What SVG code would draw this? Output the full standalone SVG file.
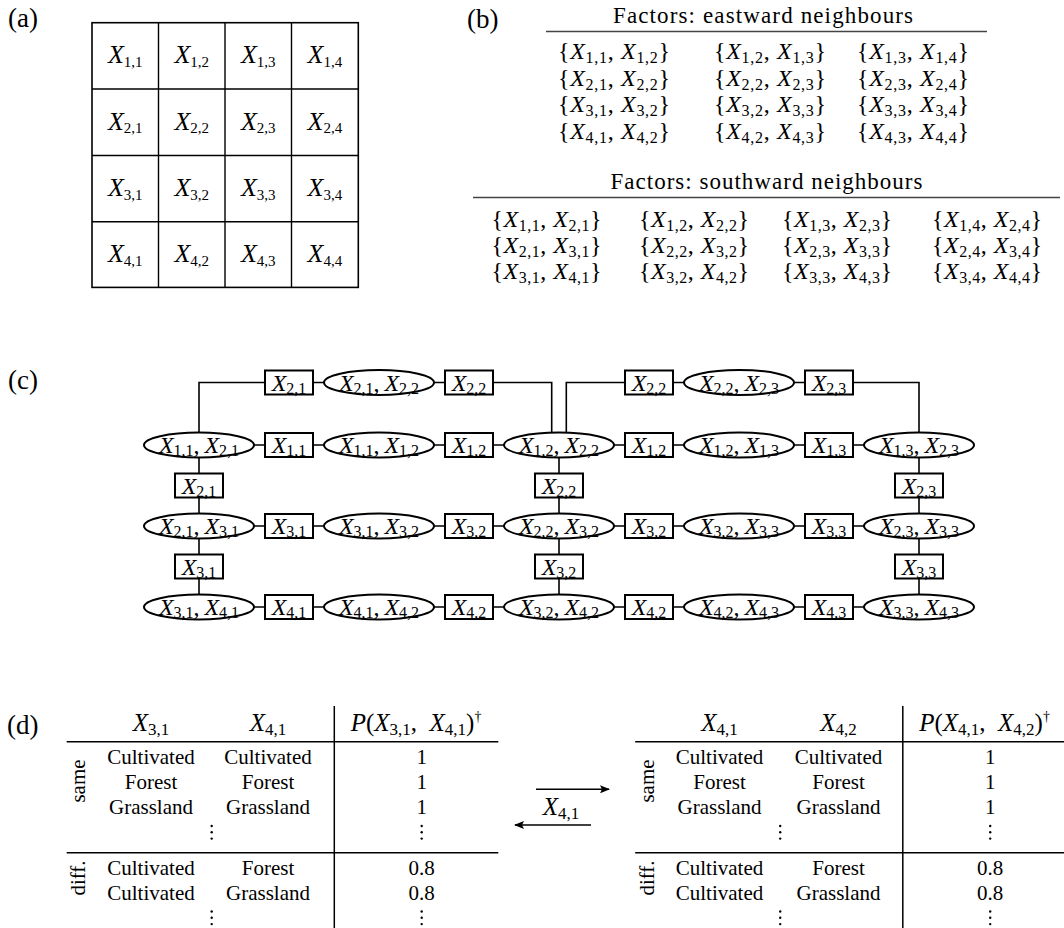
<svg xmlns="http://www.w3.org/2000/svg" width="1064" height="928" viewBox="0 0 1064 928">
<style>
text { font-family: "Liberation Serif", "DejaVu Serif", serif; fill: #000; }
.lab { font-size: 27px; }
.i { font-style: italic; }
.cell { font-size: 26px; text-anchor: middle; }
.s13 { font-size: 15px; }
.nl { font-size: 24px; text-anchor: middle; }
.sb { font-size: 16px; }
.hd { font-size: 23px; text-anchor: middle; }
.bt { font-size: 24px; text-anchor: middle; }
.dt { font-size: 21px; text-anchor: middle; }
.dh { font-size: 25px; text-anchor: middle; }
.ds { font-size: 17px; }
.sup { font-size: 14px; }
.box { fill: #fff; stroke: #000; stroke-width: 2; }
.ell { fill: #fff; stroke: #000; stroke-width: 2; }
.ln { fill: none; stroke: #000; stroke-width: 1.6; }
.rule { fill: none; stroke: #000; stroke-width: 1.5; }
.brule { fill: none; stroke: #444; stroke-width: 1.3; }
.dot { fill: #000; }
</style>
<defs>
<marker id="ah" viewBox="0 0 10 8" refX="9" refY="4" markerWidth="10" markerHeight="8" markerUnits="userSpaceOnUse" orient="auto"><path d="M0,0 L10,4 L0,8 L2,4 z" fill="#000"/></marker>
</defs>

<!-- panel labels -->
<text class="lab" x="8" y="27">(a)</text>
<text class="lab" x="467" y="28">(b)</text>
<text class="lab" x="8" y="389">(c)</text>
<text class="lab" x="7" y="734">(d)</text>

<!-- (a) grid -->
<g id="grid">
<rect x="92" y="22.7" width="266.3" height="264.7" fill="none" stroke="#000" stroke-width="1.6"/>
<path d="M158.5,22.7V287.4M225,22.7V287.4M291.5,22.7V287.4M92,89H358.3M92,155.5H358.3M92,221.8H358.3" stroke="#000" stroke-width="1.4" fill="none"/>
<text class="cell" x="125.2" y="63"><tspan class="i">X</tspan><tspan class="s13" dy="3.5">1,1</tspan></text>
<text class="cell" x="191.7" y="63"><tspan class="i">X</tspan><tspan class="s13" dy="3.5">1,2</tspan></text>
<text class="cell" x="258.2" y="63"><tspan class="i">X</tspan><tspan class="s13" dy="3.5">1,3</tspan></text>
<text class="cell" x="324.9" y="63"><tspan class="i">X</tspan><tspan class="s13" dy="3.5">1,4</tspan></text>
<text class="cell" x="125.2" y="129.5"><tspan class="i">X</tspan><tspan class="s13" dy="3.5">2,1</tspan></text>
<text class="cell" x="191.7" y="129.5"><tspan class="i">X</tspan><tspan class="s13" dy="3.5">2,2</tspan></text>
<text class="cell" x="258.2" y="129.5"><tspan class="i">X</tspan><tspan class="s13" dy="3.5">2,3</tspan></text>
<text class="cell" x="324.9" y="129.5"><tspan class="i">X</tspan><tspan class="s13" dy="3.5">2,4</tspan></text>
<text class="cell" x="125.2" y="196"><tspan class="i">X</tspan><tspan class="s13" dy="3.5">3,1</tspan></text>
<text class="cell" x="191.7" y="196"><tspan class="i">X</tspan><tspan class="s13" dy="3.5">3,2</tspan></text>
<text class="cell" x="258.2" y="196"><tspan class="i">X</tspan><tspan class="s13" dy="3.5">3,3</tspan></text>
<text class="cell" x="324.9" y="196"><tspan class="i">X</tspan><tspan class="s13" dy="3.5">3,4</tspan></text>
<text class="cell" x="125.2" y="262"><tspan class="i">X</tspan><tspan class="s13" dy="3.5">4,1</tspan></text>
<text class="cell" x="191.7" y="262"><tspan class="i">X</tspan><tspan class="s13" dy="3.5">4,2</tspan></text>
<text class="cell" x="258.2" y="262"><tspan class="i">X</tspan><tspan class="s13" dy="3.5">4,3</tspan></text>
<text class="cell" x="324.9" y="262"><tspan class="i">X</tspan><tspan class="s13" dy="3.5">4,4</tspan></text>
</g>

<!-- (b) eastward -->
<g id="east-table">
<text class="hd" x="763" y="23" textLength="300">Factors: eastward neighbours</text>
<path class="brule" d="M546,31.5H987"/>
<text class="bt" x="614" y="59" textLength="112">{<tspan class="i">X</tspan><tspan class="sb" dy="4">1,1</tspan><tspan dy="-4">, </tspan><tspan class="i">X</tspan><tspan class="sb" dy="4">1,2</tspan><tspan dy="-4">}</tspan></text>
<text class="bt" x="770" y="59" textLength="112">{<tspan class="i">X</tspan><tspan class="sb" dy="4">1,2</tspan><tspan dy="-4">, </tspan><tspan class="i">X</tspan><tspan class="sb" dy="4">1,3</tspan><tspan dy="-4">}</tspan></text>
<text class="bt" x="913" y="59" textLength="112">{<tspan class="i">X</tspan><tspan class="sb" dy="4">1,3</tspan><tspan dy="-4">, </tspan><tspan class="i">X</tspan><tspan class="sb" dy="4">1,4</tspan><tspan dy="-4">}</tspan></text>
<text class="bt" x="614" y="85.5" textLength="112">{<tspan class="i">X</tspan><tspan class="sb" dy="4">2,1</tspan><tspan dy="-4">, </tspan><tspan class="i">X</tspan><tspan class="sb" dy="4">2,2</tspan><tspan dy="-4">}</tspan></text>
<text class="bt" x="770" y="85.5" textLength="112">{<tspan class="i">X</tspan><tspan class="sb" dy="4">2,2</tspan><tspan dy="-4">, </tspan><tspan class="i">X</tspan><tspan class="sb" dy="4">2,3</tspan><tspan dy="-4">}</tspan></text>
<text class="bt" x="913" y="85.5" textLength="112">{<tspan class="i">X</tspan><tspan class="sb" dy="4">2,3</tspan><tspan dy="-4">, </tspan><tspan class="i">X</tspan><tspan class="sb" dy="4">2,4</tspan><tspan dy="-4">}</tspan></text>
<text class="bt" x="614" y="112" textLength="112">{<tspan class="i">X</tspan><tspan class="sb" dy="4">3,1</tspan><tspan dy="-4">, </tspan><tspan class="i">X</tspan><tspan class="sb" dy="4">3,2</tspan><tspan dy="-4">}</tspan></text>
<text class="bt" x="770" y="112" textLength="112">{<tspan class="i">X</tspan><tspan class="sb" dy="4">3,2</tspan><tspan dy="-4">, </tspan><tspan class="i">X</tspan><tspan class="sb" dy="4">3,3</tspan><tspan dy="-4">}</tspan></text>
<text class="bt" x="913" y="112" textLength="112">{<tspan class="i">X</tspan><tspan class="sb" dy="4">3,3</tspan><tspan dy="-4">, </tspan><tspan class="i">X</tspan><tspan class="sb" dy="4">3,4</tspan><tspan dy="-4">}</tspan></text>
<text class="bt" x="614" y="138.5" textLength="112">{<tspan class="i">X</tspan><tspan class="sb" dy="4">4,1</tspan><tspan dy="-4">, </tspan><tspan class="i">X</tspan><tspan class="sb" dy="4">4,2</tspan><tspan dy="-4">}</tspan></text>
<text class="bt" x="770" y="138.5" textLength="112">{<tspan class="i">X</tspan><tspan class="sb" dy="4">4,2</tspan><tspan dy="-4">, </tspan><tspan class="i">X</tspan><tspan class="sb" dy="4">4,3</tspan><tspan dy="-4">}</tspan></text>
<text class="bt" x="913" y="138.5" textLength="112">{<tspan class="i">X</tspan><tspan class="sb" dy="4">4,3</tspan><tspan dy="-4">, </tspan><tspan class="i">X</tspan><tspan class="sb" dy="4">4,4</tspan><tspan dy="-4">}</tspan></text>
</g>

<!-- (b) southward -->
<g id="south-table">
<text class="hd" x="766.5" y="189" textLength="312">Factors: southward neighbours</text>
<path class="brule" d="M473,197.5H1060"/>
<text class="bt" x="546.5" y="227" textLength="110">{<tspan class="i">X</tspan><tspan class="sb" dy="4">1,1</tspan><tspan dy="-4">, </tspan><tspan class="i">X</tspan><tspan class="sb" dy="4">2,1</tspan><tspan dy="-4">}</tspan></text>
<text class="bt" x="694" y="227" textLength="110">{<tspan class="i">X</tspan><tspan class="sb" dy="4">1,2</tspan><tspan dy="-4">, </tspan><tspan class="i">X</tspan><tspan class="sb" dy="4">2,2</tspan><tspan dy="-4">}</tspan></text>
<text class="bt" x="837" y="227" textLength="110">{<tspan class="i">X</tspan><tspan class="sb" dy="4">1,3</tspan><tspan dy="-4">, </tspan><tspan class="i">X</tspan><tspan class="sb" dy="4">2,3</tspan><tspan dy="-4">}</tspan></text>
<text class="bt" x="987" y="227" textLength="110">{<tspan class="i">X</tspan><tspan class="sb" dy="4">1,4</tspan><tspan dy="-4">, </tspan><tspan class="i">X</tspan><tspan class="sb" dy="4">2,4</tspan><tspan dy="-4">}</tspan></text>
<text class="bt" x="546.5" y="253" textLength="110">{<tspan class="i">X</tspan><tspan class="sb" dy="4">2,1</tspan><tspan dy="-4">, </tspan><tspan class="i">X</tspan><tspan class="sb" dy="4">3,1</tspan><tspan dy="-4">}</tspan></text>
<text class="bt" x="694" y="253" textLength="110">{<tspan class="i">X</tspan><tspan class="sb" dy="4">2,2</tspan><tspan dy="-4">, </tspan><tspan class="i">X</tspan><tspan class="sb" dy="4">3,2</tspan><tspan dy="-4">}</tspan></text>
<text class="bt" x="837" y="253" textLength="110">{<tspan class="i">X</tspan><tspan class="sb" dy="4">2,3</tspan><tspan dy="-4">, </tspan><tspan class="i">X</tspan><tspan class="sb" dy="4">3,3</tspan><tspan dy="-4">}</tspan></text>
<text class="bt" x="987" y="253" textLength="110">{<tspan class="i">X</tspan><tspan class="sb" dy="4">2,4</tspan><tspan dy="-4">, </tspan><tspan class="i">X</tspan><tspan class="sb" dy="4">3,4</tspan><tspan dy="-4">}</tspan></text>
<text class="bt" x="546.5" y="279" textLength="110">{<tspan class="i">X</tspan><tspan class="sb" dy="4">3,1</tspan><tspan dy="-4">, </tspan><tspan class="i">X</tspan><tspan class="sb" dy="4">4,1</tspan><tspan dy="-4">}</tspan></text>
<text class="bt" x="694" y="279" textLength="110">{<tspan class="i">X</tspan><tspan class="sb" dy="4">3,2</tspan><tspan dy="-4">, </tspan><tspan class="i">X</tspan><tspan class="sb" dy="4">4,2</tspan><tspan dy="-4">}</tspan></text>
<text class="bt" x="837" y="279" textLength="110">{<tspan class="i">X</tspan><tspan class="sb" dy="4">3,3</tspan><tspan dy="-4">, </tspan><tspan class="i">X</tspan><tspan class="sb" dy="4">4,3</tspan><tspan dy="-4">}</tspan></text>
<text class="bt" x="987" y="279" textLength="110">{<tspan class="i">X</tspan><tspan class="sb" dy="4">3,4</tspan><tspan dy="-4">, </tspan><tspan class="i">X</tspan><tspan class="sb" dy="4">4,4</tspan><tspan dy="-4">}</tspan></text>
</g>

<!-- (c) connectors -->
<g id="connectors">
<path class="ln" d="M199,445V382.5H551.7V440"/>
<path class="ln" d="M566.3,440V382.5H919V445"/>
<path class="ln" d="M199,445H919M199,526H919M199,607H919"/>
<path class="ln" d="M199,445V607M559,445V607M919,445V607"/>
</g>

<!-- (c) top row -->
<g id="b-t1"><rect class="box" x="265" y="370.5" width="48" height="24"/><text class="nl" x="289" y="390.5"><tspan class="i">X</tspan><tspan class="sb" dy="3">2,1</tspan></text></g>
<g id="e-t1"><ellipse class="ell" cx="379" cy="382.5" rx="55" ry="12.5"/><text class="nl" x="379" y="390.5"><tspan class="i">X</tspan><tspan class="sb" dy="3">2,1</tspan><tspan dy="-3">,&#8201;</tspan><tspan class="i">X</tspan><tspan class="sb" dy="3">2,2</tspan></text></g>
<g id="b-t2"><rect class="box" x="445" y="370.5" width="48" height="24"/><text class="nl" x="469" y="390.5"><tspan class="i">X</tspan><tspan class="sb" dy="3">2,2</tspan></text></g>
<g id="b-t3"><rect class="box" x="625" y="370.5" width="48" height="24"/><text class="nl" x="649" y="390.5"><tspan class="i">X</tspan><tspan class="sb" dy="3">2,2</tspan></text></g>
<g id="e-t2"><ellipse class="ell" cx="739" cy="382.5" rx="55" ry="12.5"/><text class="nl" x="739" y="390.5"><tspan class="i">X</tspan><tspan class="sb" dy="3">2,2</tspan><tspan dy="-3">,&#8201;</tspan><tspan class="i">X</tspan><tspan class="sb" dy="3">2,3</tspan></text></g>
<g id="b-t4"><rect class="box" x="805" y="370.5" width="48" height="24"/><text class="nl" x="829" y="390.5"><tspan class="i">X</tspan><tspan class="sb" dy="3">2,3</tspan></text></g>

<!-- (c) row 1 -->
<g id="e-11"><ellipse class="ell" cx="199" cy="445" rx="55" ry="12.5"/><text class="nl" x="199" y="453"><tspan class="i">X</tspan><tspan class="sb" dy="3">1,1</tspan><tspan dy="-3">,&#8201;</tspan><tspan class="i">X</tspan><tspan class="sb" dy="3">2,1</tspan></text></g>
<g id="b-11"><rect class="box" x="265" y="433" width="48" height="24"/><text class="nl" x="289" y="453"><tspan class="i">X</tspan><tspan class="sb" dy="3">1,1</tspan></text></g>
<g id="e-12"><ellipse class="ell" cx="379" cy="445" rx="55" ry="12.5"/><text class="nl" x="379" y="453"><tspan class="i">X</tspan><tspan class="sb" dy="3">1,1</tspan><tspan dy="-3">,&#8201;</tspan><tspan class="i">X</tspan><tspan class="sb" dy="3">1,2</tspan></text></g>
<g id="b-12"><rect class="box" x="445" y="433" width="48" height="24"/><text class="nl" x="469" y="453"><tspan class="i">X</tspan><tspan class="sb" dy="3">1,2</tspan></text></g>
<g id="e-13"><ellipse class="ell" cx="559" cy="445" rx="55" ry="12.5"/><text class="nl" x="559" y="453"><tspan class="i">X</tspan><tspan class="sb" dy="3">1,2</tspan><tspan dy="-3">,&#8201;</tspan><tspan class="i">X</tspan><tspan class="sb" dy="3">2,2</tspan></text></g>
<g id="b-13"><rect class="box" x="625" y="433" width="48" height="24"/><text class="nl" x="649" y="453"><tspan class="i">X</tspan><tspan class="sb" dy="3">1,2</tspan></text></g>
<g id="e-14"><ellipse class="ell" cx="739" cy="445" rx="55" ry="12.5"/><text class="nl" x="739" y="453"><tspan class="i">X</tspan><tspan class="sb" dy="3">1,2</tspan><tspan dy="-3">,&#8201;</tspan><tspan class="i">X</tspan><tspan class="sb" dy="3">1,3</tspan></text></g>
<g id="b-14"><rect class="box" x="805" y="433" width="48" height="24"/><text class="nl" x="829" y="453"><tspan class="i">X</tspan><tspan class="sb" dy="3">1,3</tspan></text></g>
<g id="e-15"><ellipse class="ell" cx="919" cy="445" rx="55" ry="12.5"/><text class="nl" x="919" y="453"><tspan class="i">X</tspan><tspan class="sb" dy="3">1,3</tspan><tspan dy="-3">,&#8201;</tspan><tspan class="i">X</tspan><tspan class="sb" dy="3">2,3</tspan></text></g>

<!-- (c) vertical boxes 1 -->
<g id="bv-11"><rect class="box" x="175" y="473.5" width="48" height="24"/><text class="nl" x="199" y="493.5"><tspan class="i">X</tspan><tspan class="sb" dy="3">2,1</tspan></text></g>
<g id="bv-12"><rect class="box" x="535" y="473.5" width="48" height="24"/><text class="nl" x="559" y="493.5"><tspan class="i">X</tspan><tspan class="sb" dy="3">2,2</tspan></text></g>
<g id="bv-13"><rect class="box" x="895" y="473.5" width="48" height="24"/><text class="nl" x="919" y="493.5"><tspan class="i">X</tspan><tspan class="sb" dy="3">2,3</tspan></text></g>

<!-- (c) row 2 -->
<g id="e-21"><ellipse class="ell" cx="199" cy="526" rx="55" ry="12.5"/><text class="nl" x="199" y="534"><tspan class="i">X</tspan><tspan class="sb" dy="3">2,1</tspan><tspan dy="-3">,&#8201;</tspan><tspan class="i">X</tspan><tspan class="sb" dy="3">3,1</tspan></text></g>
<g id="b-21"><rect class="box" x="265" y="514" width="48" height="24"/><text class="nl" x="289" y="534"><tspan class="i">X</tspan><tspan class="sb" dy="3">3,1</tspan></text></g>
<g id="e-22"><ellipse class="ell" cx="379" cy="526" rx="55" ry="12.5"/><text class="nl" x="379" y="534"><tspan class="i">X</tspan><tspan class="sb" dy="3">3,1</tspan><tspan dy="-3">,&#8201;</tspan><tspan class="i">X</tspan><tspan class="sb" dy="3">3,2</tspan></text></g>
<g id="b-22"><rect class="box" x="445" y="514" width="48" height="24"/><text class="nl" x="469" y="534"><tspan class="i">X</tspan><tspan class="sb" dy="3">3,2</tspan></text></g>
<g id="e-23"><ellipse class="ell" cx="559" cy="526" rx="55" ry="12.5"/><text class="nl" x="559" y="534"><tspan class="i">X</tspan><tspan class="sb" dy="3">2,2</tspan><tspan dy="-3">,&#8201;</tspan><tspan class="i">X</tspan><tspan class="sb" dy="3">3,2</tspan></text></g>
<g id="b-23"><rect class="box" x="625" y="514" width="48" height="24"/><text class="nl" x="649" y="534"><tspan class="i">X</tspan><tspan class="sb" dy="3">3,2</tspan></text></g>
<g id="e-24"><ellipse class="ell" cx="739" cy="526" rx="55" ry="12.5"/><text class="nl" x="739" y="534"><tspan class="i">X</tspan><tspan class="sb" dy="3">3,2</tspan><tspan dy="-3">,&#8201;</tspan><tspan class="i">X</tspan><tspan class="sb" dy="3">3,3</tspan></text></g>
<g id="b-24"><rect class="box" x="805" y="514" width="48" height="24"/><text class="nl" x="829" y="534"><tspan class="i">X</tspan><tspan class="sb" dy="3">3,3</tspan></text></g>
<g id="e-25"><ellipse class="ell" cx="919" cy="526" rx="55" ry="12.5"/><text class="nl" x="919" y="534"><tspan class="i">X</tspan><tspan class="sb" dy="3">2,3</tspan><tspan dy="-3">,&#8201;</tspan><tspan class="i">X</tspan><tspan class="sb" dy="3">3,3</tspan></text></g>

<!-- (c) vertical boxes 2 -->
<g id="bv-21"><rect class="box" x="175" y="554.5" width="48" height="24"/><text class="nl" x="199" y="574.5"><tspan class="i">X</tspan><tspan class="sb" dy="3">3,1</tspan></text></g>
<g id="bv-22"><rect class="box" x="535" y="554.5" width="48" height="24"/><text class="nl" x="559" y="574.5"><tspan class="i">X</tspan><tspan class="sb" dy="3">3,2</tspan></text></g>
<g id="bv-23"><rect class="box" x="895" y="554.5" width="48" height="24"/><text class="nl" x="919" y="574.5"><tspan class="i">X</tspan><tspan class="sb" dy="3">3,3</tspan></text></g>

<!-- (c) row 3 -->
<g id="e-31"><ellipse class="ell" cx="199" cy="607" rx="55" ry="12.5"/><text class="nl" x="199" y="615"><tspan class="i">X</tspan><tspan class="sb" dy="3">3,1</tspan><tspan dy="-3">,&#8201;</tspan><tspan class="i">X</tspan><tspan class="sb" dy="3">4,1</tspan></text></g>
<g id="b-31"><rect class="box" x="265" y="595" width="48" height="24"/><text class="nl" x="289" y="615"><tspan class="i">X</tspan><tspan class="sb" dy="3">4,1</tspan></text></g>
<g id="e-32"><ellipse class="ell" cx="379" cy="607" rx="55" ry="12.5"/><text class="nl" x="379" y="615"><tspan class="i">X</tspan><tspan class="sb" dy="3">4,1</tspan><tspan dy="-3">,&#8201;</tspan><tspan class="i">X</tspan><tspan class="sb" dy="3">4,2</tspan></text></g>
<g id="b-32"><rect class="box" x="445" y="595" width="48" height="24"/><text class="nl" x="469" y="615"><tspan class="i">X</tspan><tspan class="sb" dy="3">4,2</tspan></text></g>
<g id="e-33"><ellipse class="ell" cx="559" cy="607" rx="55" ry="12.5"/><text class="nl" x="559" y="615"><tspan class="i">X</tspan><tspan class="sb" dy="3">3,2</tspan><tspan dy="-3">,&#8201;</tspan><tspan class="i">X</tspan><tspan class="sb" dy="3">4,2</tspan></text></g>
<g id="b-33"><rect class="box" x="625" y="595" width="48" height="24"/><text class="nl" x="649" y="615"><tspan class="i">X</tspan><tspan class="sb" dy="3">4,2</tspan></text></g>
<g id="e-34"><ellipse class="ell" cx="739" cy="607" rx="55" ry="12.5"/><text class="nl" x="739" y="615"><tspan class="i">X</tspan><tspan class="sb" dy="3">4,2</tspan><tspan dy="-3">,&#8201;</tspan><tspan class="i">X</tspan><tspan class="sb" dy="3">4,3</tspan></text></g>
<g id="b-34"><rect class="box" x="805" y="595" width="48" height="24"/><text class="nl" x="829" y="615"><tspan class="i">X</tspan><tspan class="sb" dy="3">4,3</tspan></text></g>
<g id="e-35"><ellipse class="ell" cx="919" cy="607" rx="55" ry="12.5"/><text class="nl" x="919" y="615"><tspan class="i">X</tspan><tspan class="sb" dy="3">3,3</tspan><tspan dy="-3">,&#8201;</tspan><tspan class="i">X</tspan><tspan class="sb" dy="3">4,3</tspan></text></g>

<!-- (d) left table -->
<g id="table-left">
<path class="rule" d="M66.7,741.7H498.3M66.7,852.8H498.3M334.3,706V928"/>
<text class="dh" x="151" y="731"><tspan class="i">X</tspan><tspan class="ds" dy="4">3,1</tspan></text>
<text class="dh" x="268" y="731"><tspan class="i">X</tspan><tspan class="ds" dy="4">4,1</tspan></text>
<text class="dh" x="416" y="731"><tspan class="i">P</tspan>(<tspan class="i">X</tspan><tspan class="ds" dy="4">3,1</tspan><tspan dy="-4">,&#160; </tspan><tspan class="i">X</tspan><tspan class="ds" dy="4">4,1</tspan><tspan dy="-4">)</tspan><tspan class="sup" dy="-10">†</tspan></text>
<text class="dt" transform="translate(85,781) rotate(-90)" x="0" y="0">same</text>
<text class="dt" transform="translate(85,878) rotate(-90)" x="0" y="0">diff.</text>
<text class="dt" x="151" y="764">Cultivated</text><text class="dt" x="268" y="764">Cultivated</text><text class="dt" x="421.7" y="764">1</text>
<text class="dt" x="151" y="789">Forest</text><text class="dt" x="268" y="789">Forest</text><text class="dt" x="421.7" y="789">1</text>
<text class="dt" x="151" y="814">Grassland</text><text class="dt" x="268" y="814">Grassland</text><text class="dt" x="421.7" y="814">1</text>
<circle class="dot" cx="211.7" cy="826" r="1.2"/><circle class="dot" cx="211.7" cy="832.3" r="1.2"/><circle class="dot" cx="211.7" cy="838.6" r="1.2"/>
<circle class="dot" cx="421.7" cy="826" r="1.2"/><circle class="dot" cx="421.7" cy="832.3" r="1.2"/><circle class="dot" cx="421.7" cy="838.6" r="1.2"/>
<text class="dt" x="151" y="875">Cultivated</text><text class="dt" x="268" y="875">Forest</text><text class="dt" x="421.7" y="875">0.8</text>
<text class="dt" x="151" y="900">Cultivated</text><text class="dt" x="268" y="900">Grassland</text><text class="dt" x="421.7" y="900">0.8</text>
<circle class="dot" cx="211.7" cy="911.5" r="1.2"/><circle class="dot" cx="211.7" cy="917.8" r="1.2"/><circle class="dot" cx="211.7" cy="924.1" r="1.2"/>
<circle class="dot" cx="421.7" cy="911.5" r="1.2"/><circle class="dot" cx="421.7" cy="917.8" r="1.2"/><circle class="dot" cx="421.7" cy="924.1" r="1.2"/>
</g>

<!-- (d) message arrows -->
<g id="message">
<path class="ln" d="M536,789.3H609" marker-end="url(#ah)"/>
<path class="ln" d="M591,825H515" marker-end="url(#ah)"/>
<text class="dh" x="561" y="815"><tspan class="i">X</tspan><tspan class="ds" dy="4">4,1</tspan></text>
</g>

<!-- (d) right table -->
<g id="table-right">
<path class="rule" d="M635.2,741.7H1064M635.2,852.8H1064M902.8,706V928"/>
<text class="dh" x="719.5" y="731"><tspan class="i">X</tspan><tspan class="ds" dy="4">4,1</tspan></text>
<text class="dh" x="838.5" y="731"><tspan class="i">X</tspan><tspan class="ds" dy="4">4,2</tspan></text>
<text class="dh" x="984.5" y="731"><tspan class="i">P</tspan>(<tspan class="i">X</tspan><tspan class="ds" dy="4">4,1</tspan><tspan dy="-4">,&#160; </tspan><tspan class="i">X</tspan><tspan class="ds" dy="4">4,2</tspan><tspan dy="-4">)</tspan><tspan class="sup" dy="-10">†</tspan></text>
<text class="dt" transform="translate(653.5,781) rotate(-90)" x="0" y="0">same</text>
<text class="dt" transform="translate(653.5,878) rotate(-90)" x="0" y="0">diff.</text>
<text class="dt" x="719.5" y="764">Cultivated</text><text class="dt" x="838.5" y="764">Cultivated</text><text class="dt" x="990.2" y="764">1</text>
<text class="dt" x="719.5" y="789">Forest</text><text class="dt" x="838.5" y="789">Forest</text><text class="dt" x="990.2" y="789">1</text>
<text class="dt" x="719.5" y="814">Grassland</text><text class="dt" x="838.5" y="814">Grassland</text><text class="dt" x="990.2" y="814">1</text>
<circle class="dot" cx="780.2" cy="826" r="1.2"/><circle class="dot" cx="780.2" cy="832.3" r="1.2"/><circle class="dot" cx="780.2" cy="838.6" r="1.2"/>
<circle class="dot" cx="990.2" cy="826" r="1.2"/><circle class="dot" cx="990.2" cy="832.3" r="1.2"/><circle class="dot" cx="990.2" cy="838.6" r="1.2"/>
<text class="dt" x="719.5" y="875">Cultivated</text><text class="dt" x="838.5" y="875">Forest</text><text class="dt" x="990.2" y="875">0.8</text>
<text class="dt" x="719.5" y="900">Cultivated</text><text class="dt" x="838.5" y="900">Grassland</text><text class="dt" x="990.2" y="900">0.8</text>
<circle class="dot" cx="780.2" cy="911.5" r="1.2"/><circle class="dot" cx="780.2" cy="917.8" r="1.2"/><circle class="dot" cx="780.2" cy="924.1" r="1.2"/>
<circle class="dot" cx="990.2" cy="911.5" r="1.2"/><circle class="dot" cx="990.2" cy="917.8" r="1.2"/><circle class="dot" cx="990.2" cy="924.1" r="1.2"/>
</g>
</svg>
